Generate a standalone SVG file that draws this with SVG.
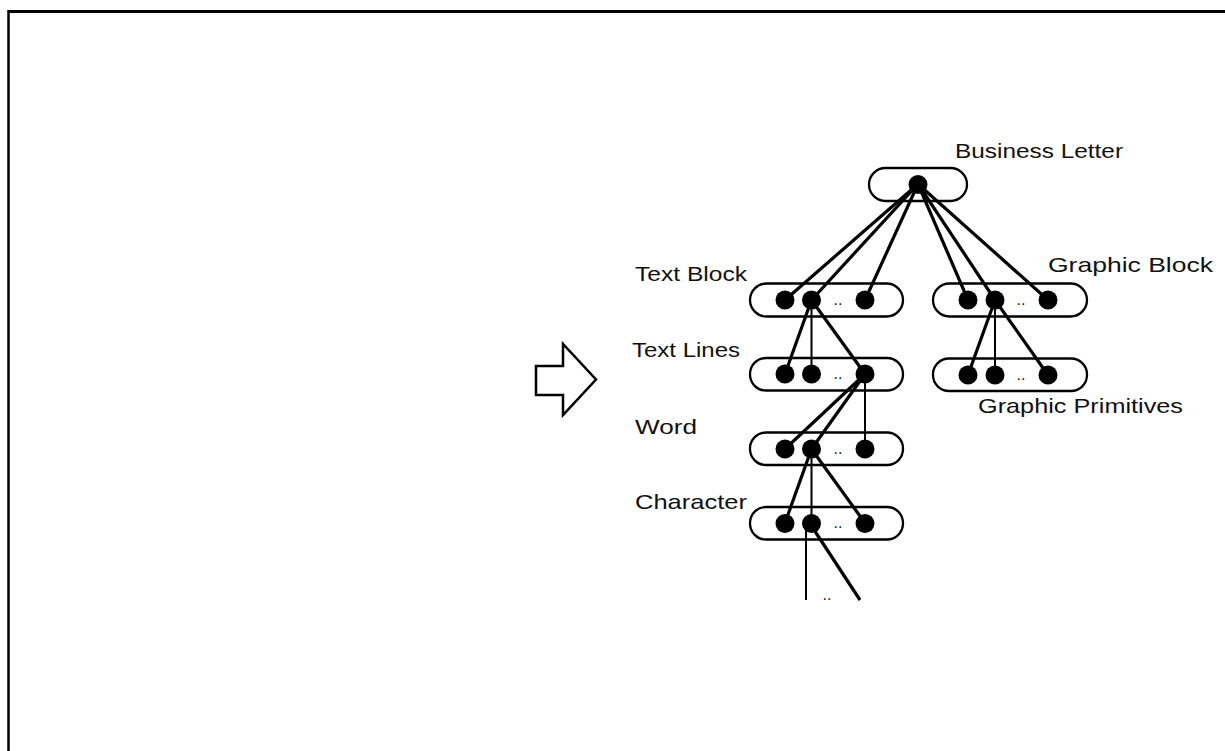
<svg xmlns="http://www.w3.org/2000/svg" width="1225" height="751" viewBox="0 0 1225 751">
<style>
.pill{fill:none;stroke:#000;stroke-width:2.3}
.dot{fill:#000}
.ln{stroke:#000;stroke-width:3.2;fill:none;stroke-linecap:butt}
.lbl{font-family:"Liberation Sans",Arial,sans-serif;font-size:21px;fill:#111}
.dd{font-family:"Liberation Sans",Arial,sans-serif;font-size:16px;fill:#222;text-anchor:middle}
</style>
<rect width="1225" height="751" fill="#fff"/>
<g id="frame">
<line x1="8.5" y1="11.5" x2="1225" y2="11.5" stroke="#000" stroke-width="3"/>
<line x1="8.5" y1="10" x2="8.5" y2="751" stroke="#000" stroke-width="2.5"/>
</g>
<g id="arrow">
<polygon points="536,366 563,366 563,344 596,379.5 563,415 563,395 536,395" fill="#fff" stroke="#000" stroke-width="2.5"/>
</g>
<g id="connectors">
<line class="ln" x1="918" y1="184" x2="785" y2="300"/>
<line class="ln" x1="918" y1="184" x2="811.5" y2="300"/>
<line class="ln" x1="918" y1="184" x2="865" y2="300"/>
<line class="ln" x1="918" y1="184" x2="968" y2="300"/>
<line class="ln" x1="918" y1="184" x2="995" y2="300"/>
<line class="ln" x1="918" y1="184" x2="1048" y2="300"/>
<line class="ln" x1="811.5" y1="300" x2="785" y2="374"/>
<line class="ln" x1="811.5" y1="300" x2="811.5" y2="374" style="stroke-width:2"/>
<line class="ln" x1="811.5" y1="300" x2="865" y2="374"/>
<line class="ln" x1="995" y1="300" x2="968" y2="375"/>
<line class="ln" x1="995" y1="300" x2="995" y2="375" style="stroke-width:2"/>
<line class="ln" x1="995" y1="300" x2="1048" y2="375"/>
<line class="ln" x1="865" y1="374" x2="785" y2="449"/>
<line class="ln" x1="865" y1="374" x2="811.5" y2="449"/>
<line class="ln" x1="865" y1="374" x2="865" y2="449" style="stroke-width:2"/>
<line class="ln" x1="811.5" y1="449" x2="785" y2="523"/>
<line class="ln" x1="811.5" y1="449" x2="811.5" y2="523" style="stroke-width:2"/>
<line class="ln" x1="811.5" y1="449" x2="865" y2="523"/>
<line class="ln" x1="806" y1="526" x2="806" y2="600" style="stroke-width:2"/>
<line class="ln" x1="811.5" y1="526" x2="860" y2="600"/>
</g>
<g id="business-letter">
<rect class="pill" x="869" y="168" width="98" height="33" rx="16.5"/>
<circle class="dot" cx="918" cy="184.5" r="9.5"/>
<text class="lbl" x="955" y="158" textLength="168" lengthAdjust="spacingAndGlyphs">Business Letter</text>
</g>
<g id="text-block">
<rect class="pill" x="750" y="283.5" width="153" height="33" rx="16.5"/>
<circle class="dot" cx="785" cy="300" r="9.5"/>
<circle class="dot" cx="811.5" cy="300" r="9.5"/>
<circle class="dot" cx="865" cy="300" r="9.5"/>
<text class="dd" x="838" y="305">..</text>
<text class="lbl" x="635" y="281" textLength="112" lengthAdjust="spacingAndGlyphs">Text Block</text>
</g>
<g id="graphic-block">
<rect class="pill" x="933" y="283.5" width="154" height="33" rx="16.5"/>
<circle class="dot" cx="968" cy="300" r="9.5"/>
<circle class="dot" cx="995" cy="300" r="9.5"/>
<circle class="dot" cx="1048" cy="300" r="9.5"/>
<text class="dd" x="1021" y="305">..</text>
<text class="lbl" x="1048" y="272" textLength="165" lengthAdjust="spacingAndGlyphs">Graphic Block</text>
</g>
<g id="text-lines">
<rect class="pill" x="750" y="358" width="153" height="32.5" rx="16"/>
<circle class="dot" cx="785" cy="374" r="9.5"/>
<circle class="dot" cx="811.5" cy="374" r="9.5"/>
<circle class="dot" cx="865" cy="374" r="9.5"/>
<text class="dd" x="838" y="379">..</text>
<text class="lbl" x="632" y="357" textLength="108" lengthAdjust="spacingAndGlyphs">Text Lines</text>
</g>
<g id="graphic-primitives">
<rect class="pill" x="933" y="358.5" width="154" height="32.5" rx="16"/>
<circle class="dot" cx="968" cy="375" r="9.5"/>
<circle class="dot" cx="995" cy="375" r="9.5"/>
<circle class="dot" cx="1048" cy="375" r="9.5"/>
<text class="dd" x="1021" y="380">..</text>
<text class="lbl" x="978" y="413" textLength="205" lengthAdjust="spacingAndGlyphs">Graphic Primitives</text>
</g>
<g id="word">
<rect class="pill" x="750" y="432.5" width="153" height="32.5" rx="16"/>
<circle class="dot" cx="785" cy="449" r="9.5"/>
<circle class="dot" cx="811.5" cy="449" r="9.5"/>
<circle class="dot" cx="865" cy="449" r="9.5"/>
<text class="dd" x="838" y="454">..</text>
<text class="lbl" x="635" y="434" textLength="62" lengthAdjust="spacingAndGlyphs">Word</text>
</g>
<g id="character">
<rect class="pill" x="750" y="507" width="153" height="32.5" rx="16"/>
<circle class="dot" cx="785" cy="523.5" r="9.5"/>
<circle class="dot" cx="811.5" cy="523.5" r="9.5"/>
<circle class="dot" cx="865" cy="523.5" r="9.5"/>
<text class="dd" x="838" y="528">..</text>
<text class="lbl" x="635" y="509" textLength="112" lengthAdjust="spacingAndGlyphs">Character</text>
</g>
<g id="lower-levels">
<text class="dd" x="827" y="600">..</text>
</g>
</svg>
